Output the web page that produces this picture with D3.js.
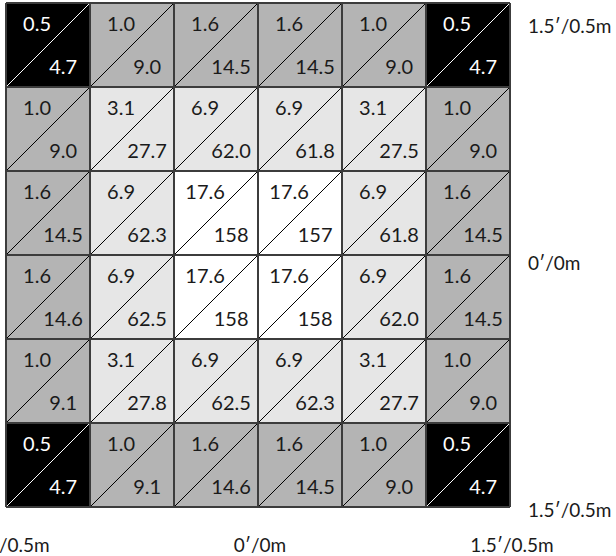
<!DOCTYPE html>
<html>
<head>
<meta charset="utf-8">
<script src="https://cdn.jsdelivr.net/npm/d3@7"></script>
<style>
  body { margin: 0; background: #fff; }
  text { font-family: Lato, "Noto Sans", sans-serif; }
</style>
</head>
<body>
<svg id="chart" width="616" height="556"></svg>
<script>
// top value (upper-left) and bottom value (lower-right) of each cell, row by row
var topValues = [
    [0.5, 1.0, 1.6, 1.6, 1.0, 0.5],
    [1.0, 3.1, 6.9, 6.9, 3.1, 1.0],
    [1.6, 6.9, 17.6, 17.6, 6.9, 1.6],
    [1.6, 6.9, 17.6, 17.6, 6.9, 1.6],
    [1.0, 3.1, 6.9, 6.9, 3.1, 1.0],
    [0.5, 1.0, 1.6, 1.6, 1.0, 0.5]
]
var bottomValues = [
    ["4.7", "9.0", "14.5", "14.5", "9.0", "4.7"],
    ["9.0", "27.7", "62.0", "61.8", "27.5", "9.0"],
    ["14.5", "62.3", "158", "157", "61.8", "14.5"],
    ["14.6", "62.5", "158", "158", "62.0", "14.5"],
    ["9.1", "27.8", "62.5", "62.3", "27.7", "9.0"],
    ["4.7", "9.1", "14.6", "14.5", "9.0", "4.7"]
]
var xTickLabels = ["1.5\u2032/0.5m", "0\u2032/0m", "1.5\u2032/0.5m"]
var yTickLabels = ["1.5\u2032/0.5m", "0\u2032/0m", "1.5\u2032/0.5m"]

var svg = d3.select("#chart")
var idx = d3.range(6)

var x = d3.scaleBand().domain(idx).range([6, 510])
var y = d3.scaleBand().domain(idx).range([3, 507])
// for the tick labels: left edge, middle, right edge of grid
var xPos = d3.scaleLinear().domain([0, 2]).range([6, 510])
var yPos = d3.scaleLinear().domain([0, 2]).range([3, 507])

var fill = d3.scaleThreshold().domain([0.8, 2.5, 10]).range(["#000000", "#b4b4b4", "#e6e6e6", "#ffffff"])

var cells = []
topValues.forEach(function (row, r) {
    row.forEach(function (v, c) {
        cells.push({r: r, c: c, top: v, bottom: bottomValues[r][c]})
    })
})

var w = x.bandwidth()
var h = y.bandwidth()
var textSize = 20

var g = svg.append("g")
var cell = g.selectAll("g.cell")
    .data(cells)
    .enter()
    .append("g")
    .attr("class", "cell")
    .attr("transform", function (d) { return "translate(" + x(d.c) + "," + y(d.r) + ")" })

cell.append("rect")
    .attr("width", w)
    .attr("height", h)
    .attr("fill", function (d) { return fill(d.top) })

//diagonal from bottom-left to top-right
cell.append("line")
    .attr("x1", 0).attr("y1", h)
    .attr("x2", w).attr("y2", 0)
    .attr("stroke", function (d) { return d.top < 0.8 ? "#fff" : "#000" })
    .attr("stroke-width", 1)

cell.append("text")
    .attr("x", w * 0.37)
    .attr("y", 28)
    .attr("text-anchor", "middle")
    .attr("font-size", textSize)
    .attr("fill", function (d) { return d.top < 0.8 ? "#fff" : "#1a1a1a" })
    .text(function (d) { return d.top.toFixed(1) })

cell.append("text")
    .attr("x", w * 0.68)
    .attr("y", 71)
    .attr("text-anchor", "middle")
    .attr("font-size", textSize)
    .attr("fill", function (d) { return d.top < 0.8 ? "#fff" : "#1a1a1a" })
    .text(function (d) { return d.bottom })

//grid lines
g.selectAll("line.vgrid")
    .data(d3.range(7))
    .enter()
    .append("line")
    .attr("class", "vgrid")
    .attr("x1", function (d) { return d < 6 ? x(d) : x(5) + w })
    .attr("x2", function (d) { return d < 6 ? x(d) : x(5) + w })
    .attr("y1", y(0))
    .attr("y2", y(5) + h)
    .attr("stroke", "#3c3c3c")
    .attr("stroke-width", 2)

g.selectAll("line.hgrid")
    .data(d3.range(7))
    .enter()
    .append("line")
    .attr("class", "hgrid")
    .attr("y1", function (d) { return d < 6 ? y(d) : y(5) + h })
    .attr("y2", function (d) { return d < 6 ? y(d) : y(5) + h })
    .attr("x1", x(0))
    .attr("x2", x(5) + w)
    .attr("stroke", "#3c3c3c")
    .attr("stroke-width", 2)

//x labels under the grid (the first one runs off the left edge, as in the original)
svg.selectAll("text.xlab")
    .data(xTickLabels)
    .enter()
    .append("text")
    .attr("class", "xlab")
    .attr("x", function (d, i) { return xPos(i) + 2 })
    .attr("y", 552)
    .attr("text-anchor", "middle")
    .attr("font-size", 19)
    .attr("fill", "#1a1a1a")
    .text(function (d) { return d })

//y labels to the right
var yOffsets = [30, 15, 10]
svg.selectAll("text.ylab")
    .data(yTickLabels)
    .enter()
    .append("text")
    .attr("class", "ylab")
    .attr("x", 528)
    .attr("y", function (d, i) { return yPos(i) + yOffsets[i] })
    .attr("font-size", 19)
    .attr("fill", "#1a1a1a")
    .text(function (d) { return d })
</script>
</body>
</html>
